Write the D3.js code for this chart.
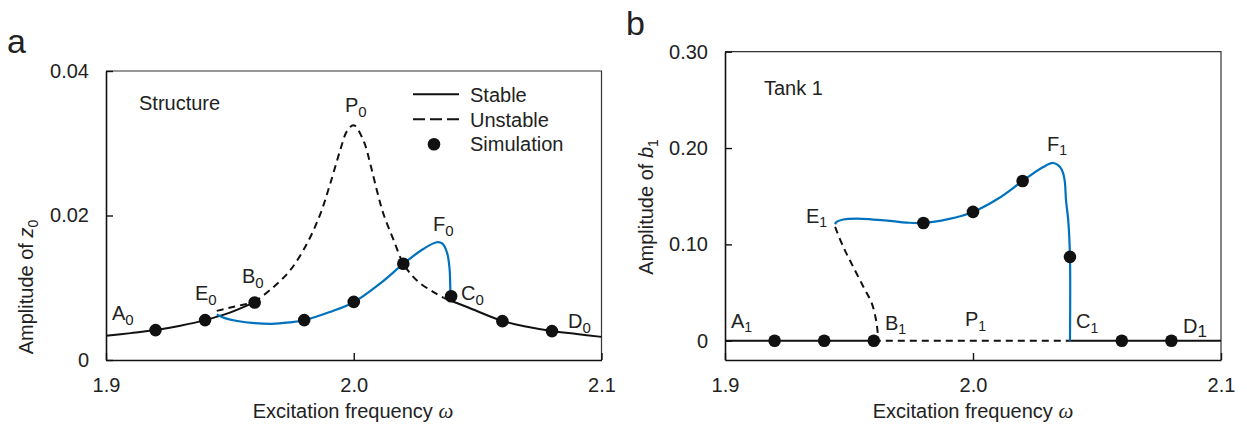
<!DOCTYPE html>
<html><head><meta charset="utf-8">
<script src="https://cdn.jsdelivr.net/npm/d3@7"></script>
<style>
body{margin:0;background:#fff}
text{font-family:"Liberation Sans",Arial,Helvetica,sans-serif;fill:#222}
</style>
</head><body>
<svg id="c" width="1247" height="429"></svg>
<script>
// ---------- tick labels ----------
const xTicks = [1.9, 2.0, 2.1];
const xTickLabels = ["1.9", "2.0", "2.1"];
const yTicksA = [0, 0.02, 0.04];
const yTickLabelsA = ["0", "0.02", "0.04"];
const yTicksB = [0, 0.10, 0.20, 0.30];
const yTickLabelsB = ["0", "0.10", "0.20", "0.30"];

// ---------- panel a (structure, z0) ----------
const aStableLow = [[1.90,0.00335],[1.91,0.00372],[1.92,0.00414],[1.93,0.00475],[1.94,0.00552],[1.95,0.00655],[1.96,0.00800]];
const aUnstableE = [[1.9447,0.0068],[1.952,0.0074],[1.96,0.0080]];
const aUnstableP = [[1.96,0.0080],[1.9676,0.0101],[1.9743,0.0124],[1.9811,0.0161],[1.9865,0.0202],[1.9905,0.0244],[1.9945,0.0290],[1.9973,0.0317],[2.0,0.0325],[2.004,0.0303],[2.0067,0.0271],[2.0094,0.0234],[2.012,0.0202],[2.0161,0.0166],[2.0201,0.0133],[2.0255,0.0110],[2.0322,0.0094],[2.0363,0.0086]];
const aStableHigh = [[2.0363,0.0086],[2.04,0.0081],[2.046,0.0073],[2.06,0.0054],[2.07,0.0046],[2.08,0.0040],[2.09,0.0036],[2.10,0.0032]];
const aBlue = [[1.9447,0.0063],[1.948,0.0058],[1.953,0.0054],[1.96,0.0051],[1.967,0.0050],[1.974,0.0052],[1.98,0.0055],[1.99,0.0066],[2.0,0.0080],[2.0107,0.0106],[2.02,0.0133],[2.0282,0.0154],[2.0336,0.0163],[2.0358,0.0161],[2.0377,0.0148],[2.0387,0.0125],[2.039,0.0097],[2.0392,0.0088]];
const aSim = [[1.92,0.00414],[1.94,0.00552],[1.96,0.00796],[1.98,0.00552],[2.0,0.00804],[2.02,0.01333],[2.0393,0.00883],[2.06,0.00538],[2.08,0.0040]];

// ---------- panel b (tank 1, b1) ----------
const bStableLeft = [[1.90,0],[1.96,0]];
const bUnstableFlat = [[1.96,0],[2.0391,0]];
const bStableRight = [[2.0391,0],[2.10,0]];
const bUnstableE = [[1.9444,0.1181],[1.9477,0.0974],[1.9517,0.0767],[1.9558,0.0560],[1.9592,0.0388],[1.9609,0.0215],[1.9616,0.0077],[1.9618,0]];
const bBlue = [[1.9444,0.1209],[1.945,0.1233],[1.9477,0.1258],[1.9531,0.1268],[1.9598,0.1258],[1.9665,0.1244],[1.9733,0.1226],[1.98,0.1222],[1.99,0.1262],[2.0,0.1337],[2.0102,0.1476],[2.02,0.1658],[2.0283,0.1803],[2.0324,0.1845],[2.0351,0.1803],[2.0364,0.1735],[2.0371,0.1631],[2.0375,0.1458],[2.0384,0.125],[2.0391,0.087],[2.0391,0]];
const bSim = [[1.92,0],[1.94,0],[1.96,0],[1.98,0.1222],[2.0,0.1337],[2.02,0.1658],[2.0391,0.087],[2.06,0],[2.08,0]];

const BLUE = "#0072BD";
const svg = d3.select("#c");

function panel(cfg){
  const x = d3.scaleLinear().domain([1.9,2.1]).range(cfg.xr);
  const y = d3.scaleLinear().domain(cfg.yd).range(cfg.yr);
  const g = svg.append("g");
  const [x0,x1] = cfg.xr, [yb,yt] = cfg.yr;
  // frame top/right
  g.append("path").attr("d",`M${x0},${yt}H${x1}V${yb}`).attr("fill","none").attr("stroke","#333").attr("stroke-width",1.2);
  const ya = d3.axisLeft(y).tickValues(cfg.yt).tickFormat((d,i)=>cfg.ytl[i]).tickSize(-7).tickSizeOuter(0).tickPadding(17);
  const xa = d3.axisBottom(x).tickValues(xTicks).tickFormat((d,i)=>xTickLabels[i]).tickSize(-7).tickSizeOuter(0).tickPadding(18);
  const gy = g.append("g").attr("transform",`translate(${x0},0)`).call(ya);
  const gx = g.append("g").attr("transform",`translate(0,${yb})`).call(xa);
  [gy,gx].forEach(a=>{
    a.select(".domain").attr("stroke","#111").attr("stroke-width",1.6);
    a.selectAll(".tick line").attr("stroke","#111").attr("stroke-width",1.4);
    a.selectAll(".tick text").attr("fill","#222").style("font-size","20px").style("font-family",'"Liberation Sans",Arial,sans-serif');
  });
  const line = d3.line().x(d=>x(d[0])).y(d=>y(d[1])).curve(d3.curveCatmullRom.alpha(0.5));
  const plot = g.append("g");
  cfg.solid.forEach(s=>plot.append("path").attr("d",line(s)).attr("fill","none").attr("stroke","#111").attr("stroke-width",2));
  cfg.dashed.forEach(s=>plot.append("path").attr("d",line(s)).attr("fill","none").attr("stroke","#111").attr("stroke-width",2).attr("stroke-dasharray","7,5"));
  plot.append("path").attr("d",line(cfg.blue)).attr("fill","none").attr("stroke",BLUE).attr("stroke-width",2.2);
  plot.selectAll("circle.sim").data(cfg.sim).join("circle").attr("class","sim")
    .attr("cx",d=>x(d[0])).attr("cy",d=>y(d[1])).attr("r",6.3).attr("fill","#111");
  return {g,x,y};
}

function lab(g, px, py, main, sub, opt={}){
  const t = g.append("text").attr("x",px).attr("y",py).style("font-size",(opt.fs||20)+"px");
  t.append("tspan").text(main).style("font-style",opt.italic?"italic":null);
  if(sub!==undefined){
    t.append("tspan").text(sub).attr("dy",opt.sdy||5).style("font-size",(opt.sfs||15)+"px");
  }
  return t;
}

// Panel a
const A = panel({xr:[106,601.5], yr:[360,71], yd:[0,0.04], yt:yTicksA, ytl:yTickLabelsA,
  solid:[aStableLow,aStableHigh], dashed:[aUnstableE,aUnstableP], blue:aBlue, sim:aSim});
// Panel b
const B = panel({xr:[725,1221], yr:[360,51.7], yd:[-0.02,0.30], yt:yTicksB, ytl:yTickLabelsB,
  solid:[bStableLeft,bStableRight], dashed:[bUnstableFlat,bUnstableE], blue:bBlue, sim:bSim});

// panel letters
svg.append("text").attr("x",7).attr("y",53).text("a").style("font-size","34px");
svg.append("text").attr("x",626).attr("y",35).text("b").style("font-size","34px");

// panel a texts
lab(A.g,139,110,"Structure");
lab(A.g,112,320,"A","0");
lab(A.g,195,300,"E","0");
lab(A.g,242,283,"B","0");
lab(A.g,345,112,"P","0");
lab(A.g,433,231,"F","0");
lab(A.g,461,300,"C","0");
lab(A.g,568,328,"D","0");
// legend
A.g.append("line").attr("x1",413).attr("x2",459).attr("y1",94.3).attr("y2",94.3).attr("stroke","#111").attr("stroke-width",2);
A.g.append("line").attr("x1",413).attr("x2",459).attr("y1",119.3).attr("y2",119.3).attr("stroke","#111").attr("stroke-width",2).attr("stroke-dasharray","12,5");
A.g.append("circle").attr("cx",434).attr("cy",144.3).attr("r",6.3).attr("fill","#111");
lab(A.g,470,101.5,"Stable");
lab(A.g,470,126.7,"Unstable");
lab(A.g,470,150.7,"Simulation");

// panel b texts
lab(B.g,764,95,"Tank 1");
lab(B.g,806,223,"E","1",{sdy:4,sfs:14});
lab(B.g,1047,151,"F","1",{sdy:4,sfs:14});
lab(B.g,731,328,"A","1",{sdy:4,sfs:14});
lab(B.g,885,330,"B","1",{sdy:4,sfs:14});
lab(B.g,965,326,"P","1",{sdy:5,sfs:14});
lab(B.g,1076,328,"C","1",{sdy:5,sfs:14});
lab(B.g,1183,333,"D","1",{sdy:4,sfs:17});

// axis titles
function xTitle(cx){
  const t = svg.append("text").attr("x",cx).attr("y",418).attr("text-anchor","middle").style("font-size","20px");
  t.append("tspan").text("Excitation frequency ");
  t.append("tspan").text("ω").style("font-family",'"Liberation Serif","Times New Roman",serif').style("font-style","italic").style("font-size","21px");
}
xTitle(353); xTitle(973);
function yTitle(bx, cy, v, sub){
  const t = svg.append("text").attr("transform",`translate(${bx},${cy}) rotate(-90)`).attr("text-anchor","middle").style("font-size","20px");
  t.append("tspan").text("Amplitude of ");
  t.append("tspan").text(v).style("font-style","italic");
  t.append("tspan").text(sub).attr("dy",5).style("font-size","14px");
}
yTitle(33,287,"z","0");
yTitle(653,207,"b","1");
</script>
</body></html>
